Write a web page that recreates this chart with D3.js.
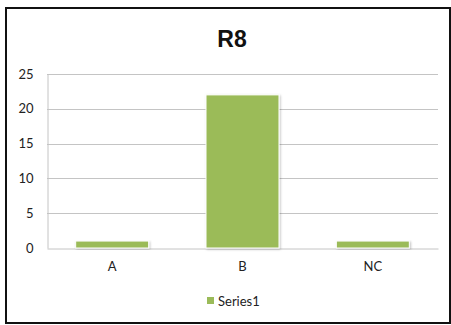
<!DOCTYPE html>
<html>
<head>
<meta charset="utf-8">
<script src="https://cdn.jsdelivr.net/npm/d3@7"></script>
<style>
  html, body { margin: 0; padding: 0; background: #fff; }
  svg { display: block; }
</style>
</head>
<body>
<div id="chart"></div>
<script>
// Chart data
const categories = ["A", "B", "NC"];
const values = [1, 22, 1];
const yTicks = [0, 5, 10, 15, 20, 25];
const seriesName = "Series1";
const chartTitle = "R8";

const W = 451, H = 325;
const margin = { left: 47, right: 13, top: 74, bottom: 77 };
const font = "Lato, 'Open Sans', 'Liberation Sans', sans-serif";

const svg = d3.select("#chart").append("svg")
  .attr("width", W).attr("height", H);

// Drop shadow for bars
const defs = svg.append("defs");
const f = defs.append("filter").attr("id", "shadow")
  .attr("x", "-10%").attr("y", "-10%").attr("width", "130%").attr("height", "130%");
f.append("feDropShadow").attr("dx", 1).attr("dy", 1).attr("stdDeviation", 1)
  .attr("flood-color", "#000").attr("flood-opacity", 0.25);

// Outer frame
svg.append("rect")
  .attr("x", 6).attr("y", 8).attr("width", 444).attr("height", 315)
  .attr("fill", "#fff").attr("stroke", "#111").attr("stroke-width", 2);

const x = d3.scaleBand().domain(categories)
  .range([margin.left, W - margin.right]).paddingInner(0.44).paddingOuter(0.22);
const y = d3.scaleLinear().domain([0, 25]).range([H - margin.bottom, margin.top]);

// Horizontal gridlines
svg.append("g").selectAll("line").data(yTicks.filter(d => d > 0)).join("line")
  .attr("x1", margin.left).attr("x2", W - margin.right)
  .attr("y1", d => Math.round(y(d)) + 0.5).attr("y2", d => Math.round(y(d)) + 0.5)
  .attr("stroke", "#c4c4c4").attr("stroke-width", 1);

// Y axis
const yAxis = svg.append("g")
  .attr("transform", `translate(${margin.left + 0.5},0)`)
  .call(d3.axisLeft(y).tickValues(yTicks).tickSize(0).tickPadding(14));
yAxis.select(".domain").attr("stroke", "#c4c4c4");
yAxis.selectAll("text").attr("font-family", font).attr("font-size", 13).attr("fill", "#222");

// X axis
const xAxis = svg.append("g")
  .attr("transform", `translate(0,${Math.round(y(0)) + 0.5})`)
  .call(d3.axisBottom(x).tickSize(0).tickPadding(13));
xAxis.select(".domain").attr("stroke", "#c4c4c4");
xAxis.selectAll("text").attr("font-family", font).attr("font-size", 13).attr("fill", "#222");

// Bars
svg.append("g").selectAll("rect").data(values).join("rect")
  .attr("x", (d, i) => x(categories[i]))
  .attr("y", d => y(d))
  .attr("width", x.bandwidth())
  .attr("height", d => y(0) - y(d))
  .attr("fill", "#9bbb59")
  .attr("stroke", "#fff").attr("stroke-width", 1)
  .attr("filter", "url(#shadow)");

// Title
svg.append("text")
  .attr("x", 232).attr("y", 47)
  .attr("text-anchor", "middle")
  .attr("font-family", "'Liberation Sans', Arial, sans-serif")
  .attr("font-weight", "bold").attr("font-size", 23).attr("fill", "#111")
  .text(chartTitle);

// Legend
const lg = svg.append("g").attr("transform", "translate(207,297)");
lg.append("rect").attr("width", 7).attr("height", 7).attr("fill", "#9bbb59");
lg.append("text").attr("x", 11).attr("y", 8.5)
  .attr("font-family", font).attr("font-size", 13).attr("fill", "#222")
  .text(seriesName);
</script>
</body>
</html>
